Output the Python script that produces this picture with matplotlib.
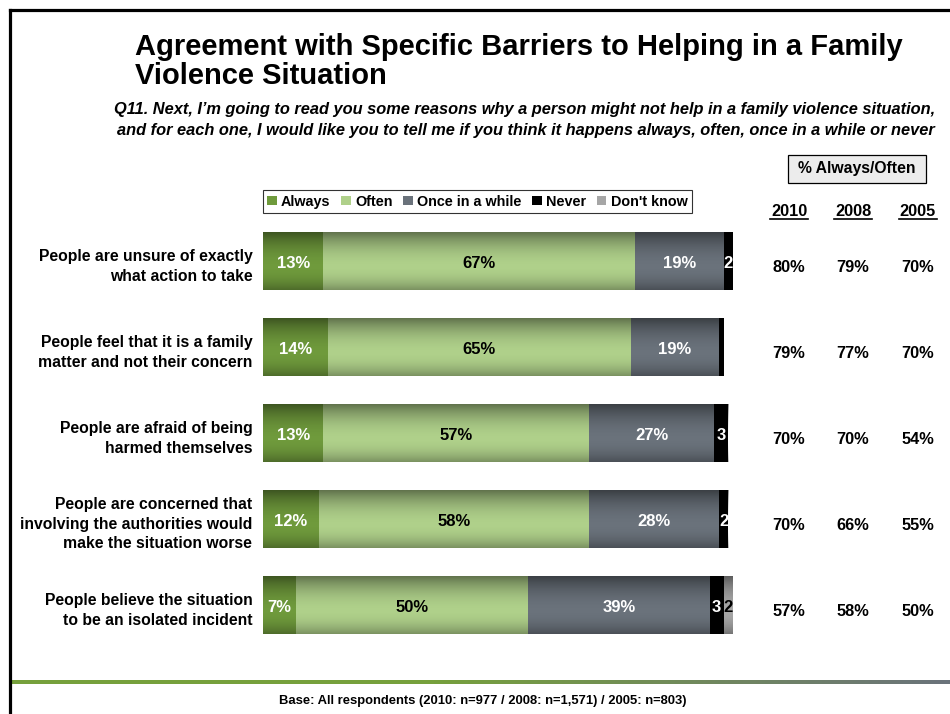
import numpy as np
import matplotlib
matplotlib.use("Agg")
import matplotlib.pyplot as plt
from matplotlib.colors import LinearSegmentedColormap
from matplotlib.lines import Line2D
from matplotlib.patches import FancyBboxPatch

plt.rcParams["font.family"] = ["Liberation Sans", "DejaVu Sans"]
plt.rcParams["font.weight"] = "bold"

barriers = [
    "People are unsure of exactly\nwhat action to take",
    "People feel that it is a family\nmatter and not their concern",
    "People are afraid of being\nharmed themselves",
    "People are concerned that\ninvolving the authorities would\nmake the situation worse",
    "People believe the situation\nto be an isolated incident",
]
responses = ["Always", "Often", "Once in a while", "Never", "Don't know"]
always = [13, 14, 13, 12, 7]
often = [67, 65, 57, 58, 50]
once_in_a_while = [19, 19, 27, 28, 39]
never = [2, 1, 3, 2, 3]
dont_know = [0, 0, 0, 0, 2]

years = ["2010", "2008", "2005"]
always_often_2010 = [80, 79, 70, 70, 57]
always_often_2008 = [79, 77, 70, 66, 58]
always_often_2005 = [70, 70, 54, 55, 50]

colors = ["#6f9a3c", "#afd08a", "#6a727b", "#000000", "#a6a6a6"]
text_colors = ["white", "black", "white", "white", "black"]

W, H = 950, 714
fig = plt.figure(figsize=(W / 100, H / 100), dpi=100)


def fx(px):
    return px / W


def fy(py):
    return 1 - py / H


# frame lines (top and left only)
fig.add_artist(Line2D([fx(10), fx(950)], [fy(10), fy(10)], color="black", lw=2.3))
fig.add_artist(Line2D([fx(10), fx(10)], [fy(10), fy(714)], color="black", lw=2.3))

# bottom gradient rule
rule_ax = fig.add_axes([fx(11), fy(684), fx(950) - fx(11), 4 / H])
rule_cmap = LinearSegmentedColormap.from_list(
    "rule", [(0, "#76a03c"), (0.45, "#76a03c"), (1, "#6b737b")])
rule_ax.imshow(np.linspace(0, 1, 300)[None, :], aspect="auto", cmap=rule_cmap)
rule_ax.axis("off")

fig.text(fx(135), fy(84), "Agreement with Specific Barriers to Helping in a Family\nViolence Situation",
         fontsize=21, fontweight="bold", ha="left", va="baseline", linespacing=1.05)
fig.text(fx(935), fy(135),
         "Q11. Next, I\u2019m going to read you some reasons why a person might not help in a family violence situation,\n"
         "and for each one, I would like you to tell me if you think it happens always, often, once in a while or never",
         fontsize=11.8, fontstyle="italic", fontweight="bold", ha="right", va="baseline", linespacing=1.5)
fig.text(fx(483), fy(704), "Base: All respondents (2010: n=977 / 2008: n=1,571) / 2005: n=803)",
         fontsize=9.4, fontweight="bold", ha="center", va="baseline")

# stacked bars
ax = fig.add_axes([fx(263), fy(648), fx(733) - fx(263), (648 - 218) / H])
series = [always, often, once_in_a_while, never, dont_know]
n = len(barriers)
ypos = np.arange(n)
bar_h = 58 / 86
left = np.zeros(n)
for name, vals, col, tcol in zip(responses, series, colors, text_colors):
    vals = np.array(vals, dtype=float)
    ax.barh(ypos, vals, left=left, height=bar_h, color=col, label=name, zorder=2)
    for i, v in enumerate(vals):
        if v <= 0:
            continue
        label = f"{v:.0f}%" if name in ("Always", "Often", "Once in a while") else f"{v:.0f}"
        if name in ("Never", "Don't know") and v < 2:
            continue
        ax.text(left[i] + v / 2, ypos[i] + 0.03, label, ha="center", va="center",
                color=tcol, fontsize=12, fontweight="bold", zorder=5)
    left += vals

# vertical shading on each bar
t = np.linspace(0, 1, 120)
alpha = np.where(t < 0.6, 0.45 * (1 - t / 0.6) ** 2, 0.3 * ((t - 0.6) / 0.4) ** 2)
shade = np.zeros((len(t), 1, 4))
shade[:, 0, 3] = alpha
for i in range(n):
    ax.imshow(shade, extent=[0, left[i], ypos[i] + bar_h / 2, ypos[i] - bar_h / 2],
              aspect="auto", interpolation="bilinear", zorder=3)

ax.set_xlim(0, 101)
ax.set_ylim(n - 0.5, -0.5)
ax.axis("off")

for i, lab in enumerate(barriers):
    ax.text(-2.3, ypos[i] + 0.06, lab, ha="right", va="center", fontsize=11.3,
            fontweight="bold", linespacing=1.4)

leg = ax.legend(loc="lower left", bbox_to_anchor=(fx(263), fy(213)), bbox_transform=fig.transFigure,
                ncol=5, frameon=True, fancybox=False, edgecolor="black", fontsize=10.4,
                handlelength=0.65, handleheight=0.65, handletextpad=0.3, columnspacing=0.75,
                borderpad=0.3, borderaxespad=0)
leg.get_frame().set_linewidth(0.8)
for txt in leg.get_texts():
    txt.set_fontweight("bold")

# % Always/Often panel
box = FancyBboxPatch((fx(788), fy(183)), fx(926) - fx(788), (183 - 155) / H,
                     boxstyle="square,pad=0", transform=fig.transFigure,
                     facecolor="#ececec", edgecolor="black", lw=0.9)
fig.add_artist(box)
fig.text(fx(857), fy(169), "% Always/Often", ha="center", va="center", fontsize=11.3, fontweight="bold")

col_x = [789, 853, 918]
row_y = [261 + 86 * i for i in range(n)]
for cx, yr, vals in zip(col_x, years, [always_often_2010, always_often_2008, always_often_2005]):
    fig.text(fx(cx), fy(216), yr, ha="center", va="baseline", fontsize=11.8, fontweight="bold")
    fig.add_artist(Line2D([fx(cx - 19), fx(cx + 19)], [fy(219), fy(219)], color="black", lw=1.2))
    for ry, v in zip(row_y, vals):
        fig.text(fx(cx), fy(ry + 7), f"{v}%", ha="center", va="center", fontsize=11.8, fontweight="bold")

fig.savefig("out.png", dpi=100)
